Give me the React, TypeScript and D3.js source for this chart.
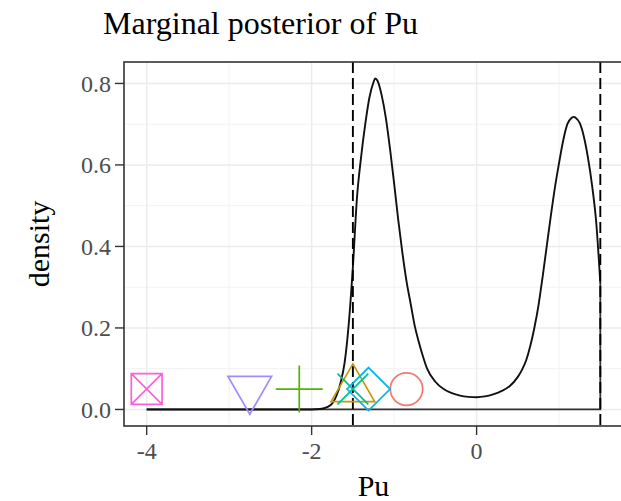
import React from "react";
import * as d3 from "d3";

// ---- data ----
const densityX = [-4, -2, -1.9, -1.85, -1.8, -1.75, -1.7, -1.65, -1.6, -1.55, -1.5, -1.45, -1.4, -1.35, -1.3, -1.25, -1.23, -1.2, -1.15, -1.1, -1.05, -1.0, -0.95, -0.9, -0.85, -0.8, -0.75, -0.7, -0.65, -0.6, -0.5, -0.4, -0.3, -0.2, -0.1, 0, 0.1, 0.2, 0.3, 0.4, 0.5, 0.55, 0.6, 0.65, 0.7, 0.75, 0.8, 0.85, 0.9, 0.95, 1.0, 1.05, 1.1, 1.15, 1.18, 1.2, 1.25, 1.3, 1.35, 1.4, 1.45, 1.5];
const densityY = [0, 0, 0.001, 0.003, 0.007, 0.015, 0.033, 0.065, 0.115, 0.21, 0.35, 0.52, 0.62, 0.7, 0.765, 0.803, 0.812, 0.806, 0.77, 0.715, 0.64, 0.555, 0.465, 0.385, 0.315, 0.26, 0.205, 0.165, 0.13, 0.1, 0.068, 0.05, 0.04, 0.034, 0.031, 0.03, 0.032, 0.037, 0.045, 0.057, 0.08, 0.097, 0.12, 0.155, 0.2, 0.255, 0.325, 0.4, 0.475, 0.545, 0.605, 0.66, 0.7, 0.715, 0.718, 0.716, 0.703, 0.67, 0.618, 0.55, 0.46, 0.31];

const pointX = [-0.85, -1.5, -2.15, -1.5, -1.31, -2.75, -4.0];
const pointY = [0.05, 0.05, 0.05, 0.05, 0.05, 0.05, 0.05];
const pointShapes = ["circle", "triangle", "plus", "cross", "diamond", "triangleDown", "squareCross"];
const pointColors = ["#F8766D", "#C49A00", "#53B400", "#00C094", "#00B6EB", "#A58AFF", "#FB61D7"];

const vlines = [-1.5, 1.5];
const xTicks = [-4, -2, 0];
const xMinor = [-3, -1, 1];
const yTicks = [0, 0.2, 0.4, 0.6, 0.8];
const yMinor = [0.1, 0.3, 0.5, 0.7];

const title = "Marginal posterior of Pu";
const xTitle = "Pu";
const yTitle = "density";

// ---- layout ----
const W = 621, H = 501;
const panel = { left: 124, right: 623, top: 62, bottom: 426 };
const FONT = "'Liberation Serif', 'Times New Roman', serif";

const xMin = -4, xMax = 1.5;
const xPad = (xMax - xMin) * 0.05;
const yMaxData = d3.max(densityY) as number;
const yPad = yMaxData * 0.05;

const x = d3.scaleLinear().domain([xMin - xPad, xMax + xPad]).range([panel.left, panel.right]);
const y = d3.scaleLinear().domain([-yPad, yMaxData + yPad]).range([panel.bottom, panel.top]);

function markerPath(shape: string, cx: number, cy: number, s: number): string {
  const p = d3.path();
  if (shape === "circle") {
    p.moveTo(cx + s, cy);
    p.arc(cx, cy, s, 0, Math.PI * 2);
  } else if (shape === "triangle" || shape === "triangleDown") {
    const r = 1.555 * s, xc = 1.347 * s, yc = 0.778 * s;
    const sg = shape === "triangle" ? 1 : -1;
    p.moveTo(cx, cy - sg * r);
    p.lineTo(cx + xc, cy + sg * yc);
    p.lineTo(cx - xc, cy + sg * yc);
    p.closePath();
  } else if (shape === "plus") {
    const r = 1.45 * s;
    p.moveTo(cx - r, cy); p.lineTo(cx + r, cy);
    p.moveTo(cx, cy - r); p.lineTo(cx, cy + r);
  } else if (shape === "cross") {
    const r = 0.95 * s;
    p.moveTo(cx - r, cy - r); p.lineTo(cx + r, cy + r);
    p.moveTo(cx - r, cy + r); p.lineTo(cx + r, cy - r);
  } else if (shape === "diamond") {
    const r = 1.33 * s;
    p.moveTo(cx, cy - r); p.lineTo(cx + r, cy); p.lineTo(cx, cy + r); p.lineTo(cx - r, cy); p.closePath();
  } else if (shape === "squareCross") {
    const r = 0.95 * s;
    p.rect(cx - r, cy - r, 2 * r, 2 * r);
    p.moveTo(cx - r, cy - r); p.lineTo(cx + r, cy + r);
    p.moveTo(cx - r, cy + r); p.lineTo(cx + r, cy - r);
  }
  return p.toString();
}

export default function App() {
  const pts = densityX.map((d, i) => [d, densityY[i]] as [number, number]);
  const curve = d3.line<[number, number]>().x(d => x(d[0])).y(d => y(d[1])).curve(d3.curveMonotoneX)(pts) || "";
  const last = pts[pts.length - 1];
  const closing = d3.line<[number, number]>().x(d => x(d[0])).y(d => y(d[1]))([last, [last[0], 0], [pts[0][0], 0]]) || "";
  const s = 16.2;

  return (
    <svg width={W} height={H} style={{ position: "absolute", left: 0, top: 0, background: "#fff" }} fontFamily={FONT}>
      <rect x={0} y={0} width={W} height={H} fill="#fff" />
      {/* grid */}
      <g>
        {xMinor.map(t => <line key={"xm" + t} x1={x(t)} x2={x(t)} y1={panel.top} y2={panel.bottom} stroke="#F2F2F2" strokeWidth={1} />)}
        {yMinor.map(t => <line key={"ym" + t} x1={panel.left} x2={panel.right} y1={y(t)} y2={y(t)} stroke="#F2F2F2" strokeWidth={1} />)}
        {xTicks.map(t => <line key={"xg" + t} x1={x(t)} x2={x(t)} y1={panel.top} y2={panel.bottom} stroke="#EBEBEB" strokeWidth={1.4} />)}
        {yTicks.map(t => <line key={"yg" + t} x1={panel.left} x2={panel.right} y1={y(t)} y2={y(t)} stroke="#EBEBEB" strokeWidth={1.4} />)}
      </g>
      {/* density */}
      <path d={closing} fill="none" stroke="#333" strokeWidth={1.8} />
      <path d={curve} fill="none" stroke="#111" strokeWidth={1.9} />
      {/* vlines */}
      {vlines.map(v => <line key={"v" + v} x1={x(v)} x2={x(v)} y1={panel.top} y2={panel.bottom} stroke="#000" strokeWidth={1.9} strokeDasharray="11,5" />)}
      {/* points */}
      {pointX.map((px, i) => (
        <path key={"p" + i} d={markerPath(pointShapes[i], x(px), y(pointY[i]), s)} fill="none" stroke={pointColors[i]} strokeWidth={1.7} />
      ))}
      {/* panel border */}
      <rect x={panel.left} y={panel.top} width={panel.right - panel.left} height={panel.bottom - panel.top} fill="none" stroke="#333" strokeWidth={1.6} />
      {/* axes */}
      {yTicks.map(t => (
        <g key={"yt" + t}>
          <line x1={panel.left - 9} x2={panel.left} y1={y(t)} y2={y(t)} stroke="#333" strokeWidth={1.4} />
          <text x={panel.left - 13} y={y(t)} dy="0.34em" textAnchor="end" fontSize={24} fill="#4D4D4D">{d3.format(".1f")(t)}</text>
        </g>
      ))}
      {xTicks.map(t => (
        <g key={"xt" + t}>
          <line x1={x(t)} x2={x(t)} y1={panel.bottom} y2={panel.bottom + 9} stroke="#333" strokeWidth={1.4} />
          <text x={x(t)} y={459} textAnchor="middle" fontSize={24} fill="#4D4D4D">{d3.format("d")(t).replace("−", "-")}</text>
        </g>
      ))}
      <text x={(panel.left + panel.right) / 2} y={496} textAnchor="middle" fontSize={30} fill="#000">{xTitle}</text>
      <text transform={`translate(49, ${(panel.top + panel.bottom) / 2}) rotate(-90)`} textAnchor="middle" fontSize={30} fill="#000">{yTitle}</text>
      <text x={103} y={34} fontSize={32} fill="#000">{title}</text>
    </svg>
  );
}
